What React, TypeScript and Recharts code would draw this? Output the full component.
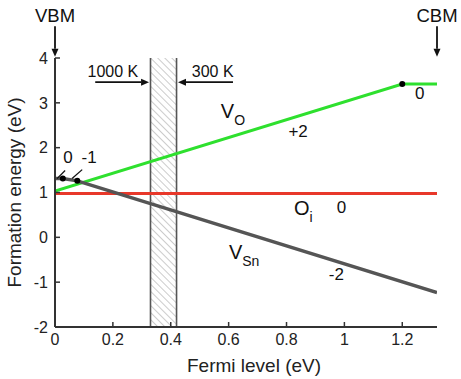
import React from 'react';
import { ComposedChart, Line, XAxis, YAxis, ReferenceArea, ReferenceDot, ReferenceLine } from 'recharts';

const FONT = '"Liberation Sans", Arial, Helvetica, sans-serif';

const xTicks = [0, 0.2, 0.4, 0.6, 0.8, 1, 1.2];
const yTicks = [-2, -1, 0, 1, 2, 3, 4];

const vO = [
  { x: 0, y: 1.03 },
  { x: 1.2, y: 3.42 },
  { x: 1.32, y: 3.42 },
];
const oI = [
  { x: 0, y: 0.98 },
  { x: 1.32, y: 0.98 },
];
const vSn = [
  { x: 0, y: 1.31 },
  { x: 0.027, y: 1.31 },
  { x: 0.077, y: 1.26 },
  { x: 1.32, y: -1.23 },
];

const transitionDots = [
  { x: 1.2, y: 3.42 },
  { x: 0.027, y: 1.31 },
  { x: 0.077, y: 1.26 },
];

const hatchRange = { x1: 0.33, x2: 0.42 };

type Note = { x: number; y: number; text: string; sub?: string; size: number; anchor?: string };
const notes: Note[] = [
  { x: 0, y: 4.94, text: 'VBM', size: 18.5 },
  { x: 1.32, y: 4.94, text: 'CBM', size: 18.5 },
  { x: 0.2, y: 3.69, text: '1000 K', size: 16 },
  { x: 0.545, y: 3.69, text: '300 K', size: 16 },
  { x: 0.573, y: 2.82, text: 'V', sub: 'O', size: 20, anchor: 'start' },
  { x: 0.84, y: 2.35, text: '+2', size: 17 },
  { x: 1.26, y: 3.2, text: '0', size: 17 },
  { x: 0.826, y: 0.65, text: 'O', sub: 'i', size: 20, anchor: 'start' },
  { x: 0.99, y: 0.67, text: '0', size: 17 },
  { x: 0.601, y: -0.33, text: 'V', sub: 'Sn', size: 20, anchor: 'start' },
  { x: 0.972, y: -0.84, text: '-2', size: 17 },
  { x: 0.045, y: 1.79, text: '0', size: 17 },
  { x: 0.118, y: 1.79, text: '-1', size: 17 },
];

type Seg = { x1: number; y1: number; x2: number; y2: number; head: boolean };
const segments: Seg[] = [
  { x1: 0, y1: 4.71, x2: 0, y2: 4.03, head: true },
  { x1: 1.32, y1: 4.71, x2: 1.32, y2: 4.03, head: true },
  { x1: 0.139, y1: 3.46, x2: 0.325, y2: 3.46, head: true },
  { x1: 0.615, y1: 3.46, x2: 0.425, y2: 3.46, head: true },
  { x1: 0.007, y1: 1.31, x2: 0.035, y2: 1.49, head: false },
  { x1: 0.059, y1: 1.31, x2: 0.094, y2: 1.51, head: false },
];

const makeText = (n: Note) => (p: any) => (
  <text
    x={p.cx}
    y={p.cy}
    textAnchor={n.anchor || 'middle'}
    dominantBaseline="central"
    fontSize={n.size}
    fontFamily={FONT}
    fill="#111"
  >
    {n.text}
    {n.sub ? (
      <tspan dy={n.size * 0.45} fontSize={n.size * 0.7}>
        {n.sub}
      </tspan>
    ) : null}
  </text>
);

const makeArrow = (s: Seg) => (p: any) => {
  const { x1, y1, x2, y2 } = p;
  if ([x1, y1, x2, y2].some((v) => typeof v !== 'number' || isNaN(v))) return <g />;
  const dx = x2 - x1;
  const dy = y2 - y1;
  const len = Math.sqrt(dx * dx + dy * dy) || 1;
  const ux = dx / len;
  const uy = dy / len;
  const hl = 8;
  const hw = 3.5;
  const bx = x2 - ux * hl;
  const by = y2 - uy * hl;
  const pts = `${x2},${y2} ${bx - uy * hw},${by + ux * hw} ${bx + uy * hw},${by - ux * hw}`;
  return (
    <g>
      <line x1={x1} y1={y1} x2={s.head ? bx : x2} y2={s.head ? by : y2} stroke="#111" strokeWidth={s.head ? 1.8 : 1.3} />
      {s.head ? <polygon points={pts} fill="#111" /> : null}
    </g>
  );
};

const hatchShape = (p: any) => {
  const { x, y, width, height } = p;
  return (
    <g>
      <defs>
        <pattern id="hatch" patternUnits="userSpaceOnUse" width={5} height={5} patternTransform="rotate(-45)">
          <line x1={0} y1={0} x2={0} y2={5} stroke="#9a9a9a" strokeWidth={1} />
        </pattern>
      </defs>
      <rect x={x} y={y} width={width} height={height} fill="url(#hatch)" stroke="none" />
      <line x1={x} y1={y} x2={x} y2={y + height} stroke="#555" strokeWidth={1.6} />
      <line x1={x + width} y1={y} x2={x + width} y2={y + height} stroke="#555" strokeWidth={1.6} />
    </g>
  );
};

const axisStroke = { stroke: '#333', strokeWidth: 2 };
const tickLineStyle = { stroke: '#333', strokeWidth: 1.5 };
const tickStyle = { fontSize: 16, fontFamily: FONT, fill: '#222' };
const blank = () => '';

export default function App() {
  return (
    <div style={{ position: 'absolute', left: 0, top: 0, width: 461, height: 379, background: '#fff' }}>
      <ComposedChart width={461} height={379} margin={{ top: 58, right: 24, bottom: 0, left: 0 }}>
        <XAxis
          xAxisId={0}
          type="number"
          dataKey="x"
          domain={[0, 1.32]}
          ticks={xTicks}
          allowDataOverflow
          height={52}
          tickSize={-5}
          tickMargin={12}
          tickLine={tickLineStyle}
          axisLine={axisStroke}
          tick={tickStyle}
          label={{ value: 'Fermi level (eV)', position: 'center', dx: 8, dy: 12, fontSize: 19, fontFamily: FONT, fill: '#222' }}
        />
        <XAxis
          xAxisId="top"
          type="number"
          dataKey="x"
          domain={[0, 1.32]}
          ticks={xTicks}
          allowDataOverflow
          orientation="top"
          height={0}
          tickSize={-5}
          tickFormatter={blank}
          tickLine={tickLineStyle}
          axisLine={axisStroke}
        />
        <YAxis
          yAxisId={0}
          type="number"
          domain={[-2, 4]}
          ticks={yTicks}
          allowDataOverflow
          width={55}
          tickSize={-5}
          tickMargin={12}
          tickLine={tickLineStyle}
          axisLine={axisStroke}
          tick={tickStyle}
          label={{ value: 'Formation energy (eV)', angle: -90, position: 'center', dx: -13, fontSize: 19, fontFamily: FONT, fill: '#222' }}
        />
        <YAxis
          yAxisId="right"
          type="number"
          domain={[-2, 4]}
          ticks={yTicks}
          allowDataOverflow
          orientation="right"
          width={0}
          tickSize={-5}
          tickFormatter={blank}
          tickLine={tickLineStyle}
          axisLine={axisStroke}
        />

        <ReferenceArea x1={hatchRange.x1} x2={hatchRange.x2} y1={-2} y2={4} ifOverflow="visible" shape={hatchShape} />

        <Line data={oI} dataKey="y" type="linear" stroke="#e8382a" strokeWidth={3} dot={false} isAnimationActive={false} />
        <Line data={vO} dataKey="y" type="linear" stroke="#2ee02e" strokeWidth={3} dot={false} isAnimationActive={false} />
        <Line data={vSn} dataKey="y" type="linear" stroke="#555555" strokeWidth={3.5} dot={false} isAnimationActive={false} />

        {transitionDots.map((d, i) => (
          <ReferenceDot key={'d' + i} x={d.x} y={d.y} r={3} fill="#000" stroke="none" ifOverflow="visible" />
        ))}
        {segments.map((s, i) => (
          <ReferenceLine
            key={'s' + i}
            segment={[{ x: s.x1, y: s.y1 }, { x: s.x2, y: s.y2 }]}
            ifOverflow="visible"
            shape={makeArrow(s)}
          />
        ))}
        {notes.map((n, i) => (
          <ReferenceDot key={'n' + i} x={n.x} y={n.y} r={1} ifOverflow="visible" shape={makeText(n)} />
        ))}
      </ComposedChart>
    </div>
  );
}
